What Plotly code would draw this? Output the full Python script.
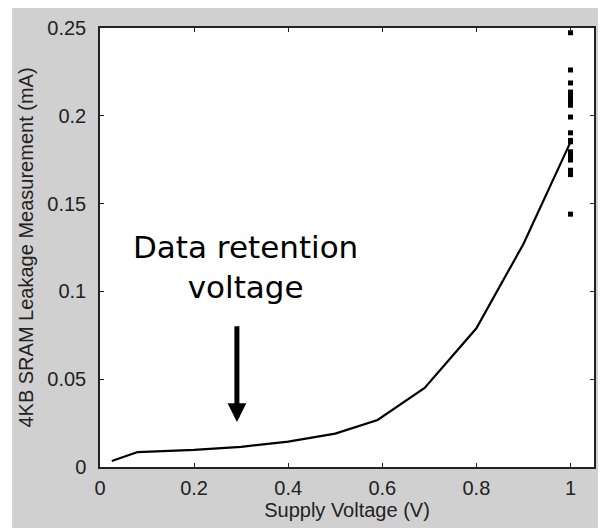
import plotly.graph_objects as go

# Leakage curve (supply voltage in V, leakage in mA)
voltage = [0.025, 0.08, 0.2, 0.3, 0.4, 0.5, 0.59, 0.69, 0.8, 0.9, 1.0]
leakage = [0.0034, 0.0085, 0.0097, 0.0115, 0.0145, 0.019, 0.0268, 0.045, 0.079, 0.127, 0.185]

# Scattered measurements at 1 V
spread_v = [1.0] * 17
spread_i = [0.2473, 0.2261, 0.2187, 0.2135, 0.2110, 0.2085, 0.2060, 0.1993,
            0.1903, 0.1852, 0.1795, 0.1770, 0.1748, 0.1690, 0.1665, 0.1440, 0.1860]

x_ticks = [0, 0.2, 0.4, 0.6, 0.8, 1]
y_ticks = [0, 0.05, 0.1, 0.15, 0.2, 0.25]

FONT = "Liberation Sans, Arial, sans-serif"
ANNOT_FONT = "DejaVu Sans, Liberation Sans, Arial, sans-serif"

fig = go.Figure()
fig.add_trace(go.Scatter(x=voltage, y=leakage, mode="lines",
                         line=dict(color="black", width=2.2), showlegend=False))
fig.add_trace(go.Scatter(x=spread_v, y=spread_i, mode="markers",
                         marker=dict(color="black", size=5, symbol="square"),
                         showlegend=False))

fig.add_annotation(x=0.31, y=0.114, xref="x", yref="y",
                   text="Data retention<br>voltage", showarrow=False,
                   font=dict(family=ANNOT_FONT, size=31, color="black"),
                   xanchor="center", yanchor="middle")
fig.add_annotation(x=0.291, y=0.0256, xref="x", yref="y",
                   ax=0.291, ay=0.081, axref="x", ayref="y",
                   text="", showarrow=True, arrowhead=2, arrowwidth=5,
                   arrowsize=0.75, arrowcolor="black")

# thin white strip at the left of the grey figure background
fig.add_shape(type="rect", xref="paper", yref="paper",
              x0=-0.25, x1=-0.178, y0=-0.2, y1=1.2,
              fillcolor="white", line=dict(width=0), layer="below")

axis_common = dict(showgrid=False, zeroline=False, showline=True, mirror="ticks",
                   linecolor="#222", linewidth=1.5, ticks="inside", ticklen=4,
                   tickcolor="#222", tickwidth=1, automargin=False,
                   tickfont=dict(family=FONT, size=20, color="#222"))

fig.update_xaxes(range=[0, 1.05], tickvals=x_ticks, ticklabelstandoff=2,
                 title=dict(text="Supply Voltage (V)", standoff=2,
                            font=dict(family=FONT, size=20, color="#222")),
                 **axis_common)
fig.update_yaxes(range=[0, 0.25], tickvals=y_ticks, ticklabelstandoff=8,
                 title=dict(text="4KB SRAM Leakage Measurement (mA)", standoff=8,
                            font=dict(family=FONT, size=20, color="#222")),
                 **axis_common)

fig.update_layout(width=606, height=520,
                  margin=dict(l=92, r=20, t=20, b=61, autoexpand=False),
                  paper_bgcolor="#d0d0d0", plot_bgcolor="white")

fig.write_html("out.html")
